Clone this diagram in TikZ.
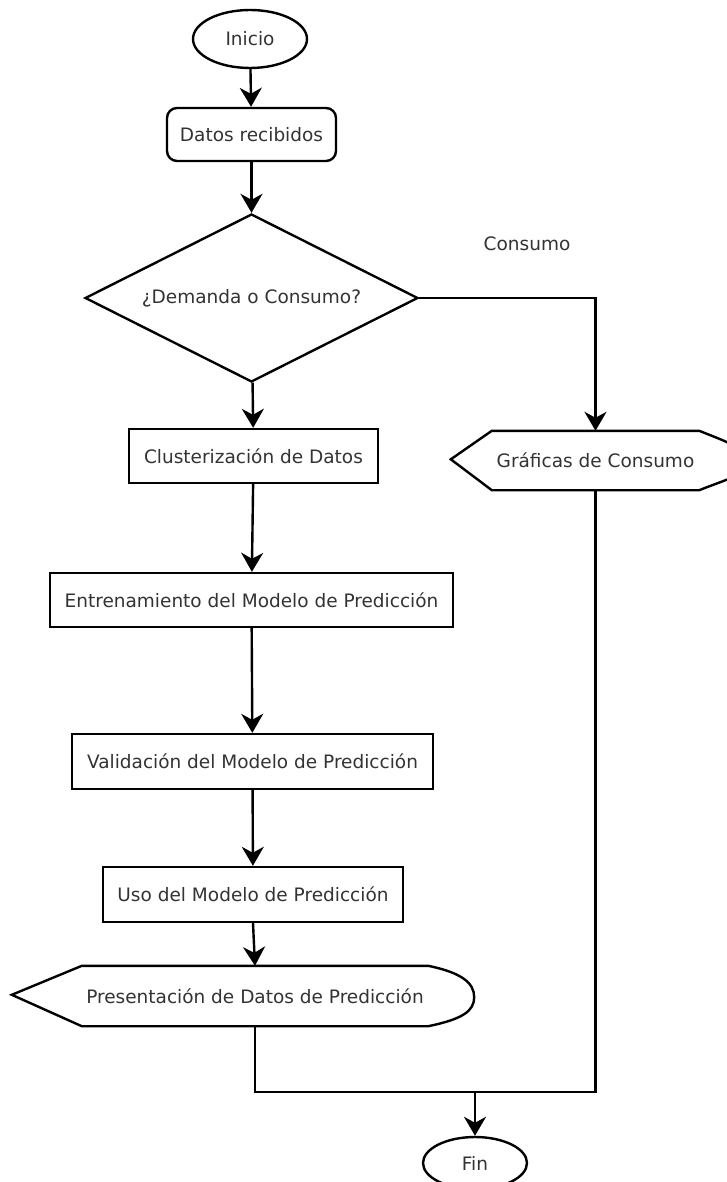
\documentclass[tikz,border=0pt]{standalone}
\usepackage{fontspec}
\setmainfont{DejaVu Sans}
\usetikzlibrary{shapes.geometric,arrows.meta}

\tikzset{
  base/.style={line width=2.4pt, font=\fontsize{18.5}{22}\selectfont, inner sep=0pt, text=black!80},
  terminal/.style={base, draw, ellipse},
  procbox/.style={base, draw, rectangle},
  roundbox/.style={base, draw, rectangle, rounded corners=10pt},
  decision/.style={base, draw, diamond, aspect=2},
  displaytext/.style={base, rectangle},
  flow/.style={line width=2.4pt, -{Stealth[length=19pt,width=22pt,inset=6pt]}},
  plainline/.style={line width=2.4pt},
}

\begin{document}
\begin{tikzpicture}[x=1pt,y=-1pt]
\useasboundingbox (0,0) rectangle (727,1182);

% main column
\node[terminal, minimum width=114pt, minimum height=58pt] (inicio) at (250,39) {Inicio};
\node[roundbox, minimum width=169pt, minimum height=53pt] (datos) at (251.5,134.5) {Datos recibidos};
\node[decision, minimum width=333pt, minimum height=168pt] (dec) at (251.5,298) {¿Demanda o Consumo?};
\node[procbox, minimum width=249pt, minimum height=54pt] (clus) at (253.5,456) {Clusterización de Datos};
\node[procbox, minimum width=403pt, minimum height=54pt] (entr) at (251.5,600) {Entrenamiento del Modelo de Predicción};
\node[procbox, minimum width=361pt, minimum height=55pt] (valid) at (252.5,761.5) {Validación del Modelo de Predicción};
\node[procbox, minimum width=300pt, minimum height=55pt] (uso) at (253,894.5) {Uso del Modelo de Predicción};

% display symbols: text holder plus outline
\node[displaytext, minimum width=344pt, minimum height=58pt] (pres) at (255,996) {Presentación de Datos de Predicción};
\draw[plainline, line join=miter]
  (pres.north west) -- ++(-70,29) -- (pres.south west) -- (pres.south east)
  .. controls ++(34,-7) and ++(0,14) .. ++(46,-29)
  .. controls ++(0,-14) and ++(34,7) .. (pres.north east) -- cycle;

\node[displaytext, minimum width=205pt, minimum height=57pt] (graf) at (595.5,460.5) {Gráficas de Consumo};
\draw[plainline, line join=miter]
  (graf.north west) -- ++(-41,28.5) -- (graf.south west) -- (graf.south east)
  .. controls ++(30,-12) and ++(0,14) .. ++(46,-28.5)
  .. controls ++(0,-14) and ++(30,12) .. (graf.north east) -- cycle;

\node[base] (lblcons) at (527,244) {Consumo};

\node[terminal, minimum width=104pt, minimum height=52pt] (fin) at (475,1163) {Fin};

% connectors
\draw[flow] (inicio) -- (datos);
\draw[flow] (datos) -- (dec);
\draw[flow] (dec) -- (clus);
\draw[flow] (clus) -- (entr);
\draw[flow] (entr) -- (valid);
\draw[flow] (valid) -- (uso);
\draw[flow] (uso.south) -- (pres.north);
\draw[flow] (dec.east) -| (graf.north);

\coordinate (merge) at (475,1092);
\draw[plainline] (pres.south) |- (merge);
\draw[plainline] (graf.south) |- (merge);
\draw[flow] (merge) -- (fin);
\end{tikzpicture}
\end{document}
